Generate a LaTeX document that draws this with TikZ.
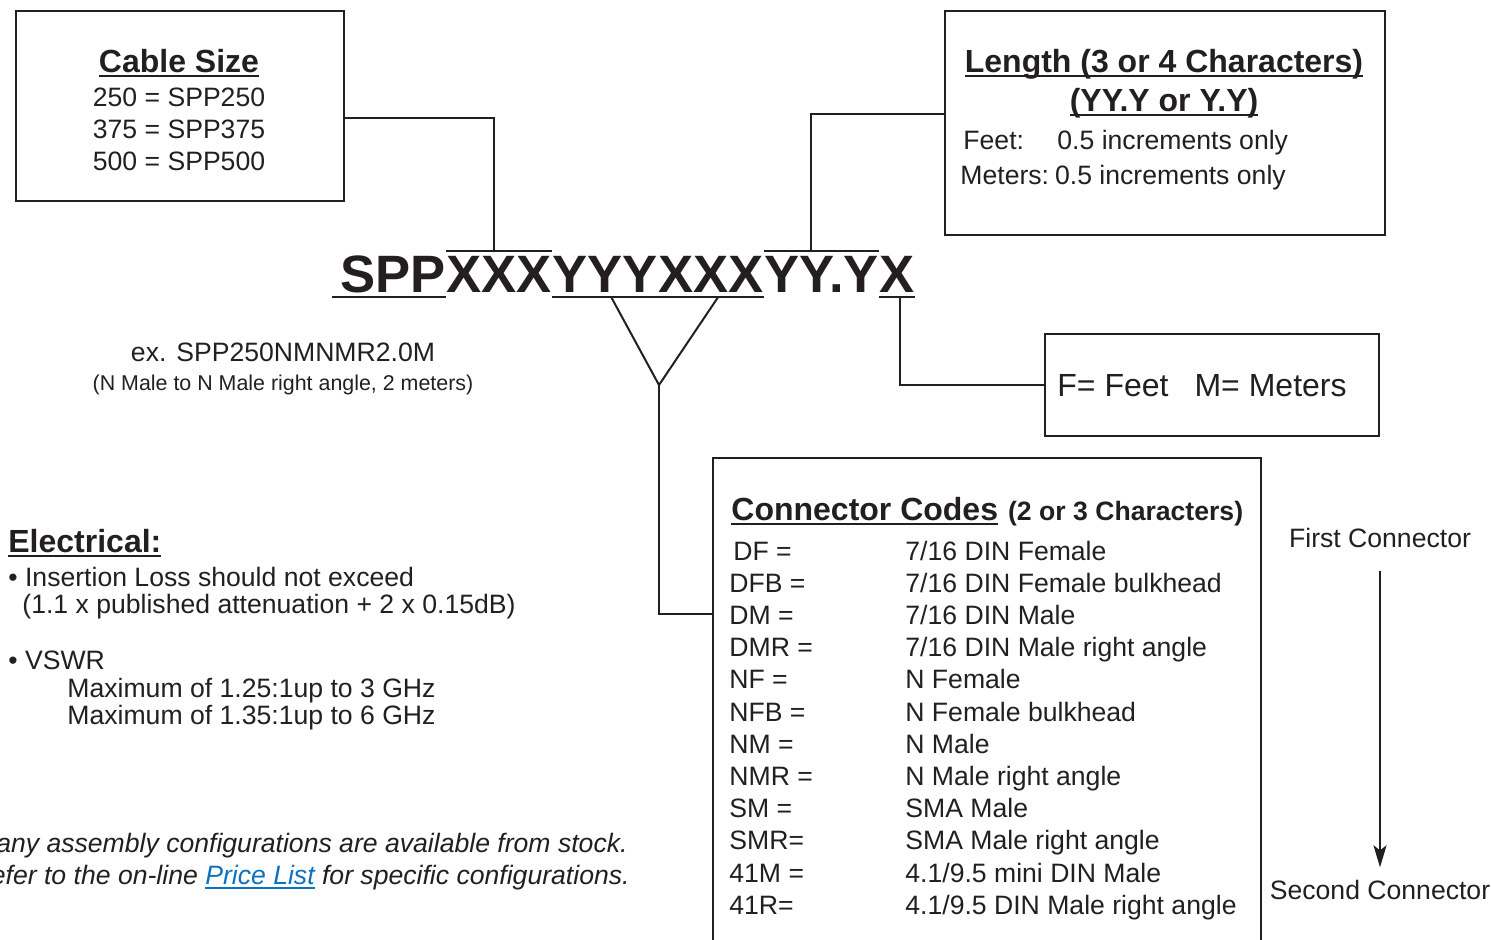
\documentclass[tikz,border=0pt]{standalone}
\usepackage{fontspec}
\setmainfont{Liberation Sans}
\usetikzlibrary{arrows.meta, positioning, calc}
\definecolor{ink}{HTML}{231F20}
\definecolor{linkblue}{HTML}{0B72C0}
\newcommand{\bodyfont}{\fontsize{13.3}{16}\selectfont}
\newcommand{\headfont}{\fontsize{16}{19}\selectfont\bfseries}
\newcommand{\pnfont}{\fontsize{26.3}{30}\selectfont\bfseries}
\newcommand{\hul}[2][0.9pt]{\setbox0\hbox{#2}\rlap{\rule[-2.3pt]{\wd0}{#1}}\box0}

\begin{document}
\begin{tikzpicture}[
    x=0.5pt, y=-0.5pt,
    box/.style={draw=ink, line width=1.1pt, inner sep=0pt, anchor=north west},
    txt/.style={inner sep=0pt, anchor=base west, text=ink, font=\bodyfont},
    head/.style={inner sep=0pt, anchor=base west, text=ink, font=\headfont},
    pn/.style={inner sep=0pt, anchor=base west, text=ink, font=\pnfont},
    bar/.style={color=ink, line width=1pt},
    link/.style={color=ink, line width=1pt},
    flow/.style={-{Stealth[length=11pt, width=6.5pt, inset=2.5pt]}, color=ink, line width=1pt}
  ]
    \clip (0,0) rectangle (1491,939);

    % Boxes
    \node[box, minimum width=164pt, minimum height=95pt] (sizebox) at (15,10) {};
    \node[box, minimum width=220pt, minimum height=112pt] (lenbox) at (944,10) {};
    \node[box, minimum width=167pt, minimum height=51pt] (unitbox) at (1044,333) {};
    \node[box, minimum width=274pt, minimum height=260pt] (conbox) at (712,457) {};

    % Cable size
    \node[head, anchor=base] (sizehead) at (179,72) {\hul{Cable Size}};
    \foreach \v [count=\i from 0] in {250,375,500}
      \node[txt, anchor=base] (size\v) at (179,{106+32*\i}) {\v{} = SPP\v};

    % Length
    \node[head, anchor=base] (lenhead) at (1164,72) {\hul{Length (3 or 4 Characters)}};
    \node[head, anchor=base] (lenform) at (1164,111) {\hul{(YY.Y or Y.Y)}};
    \node[txt] (lenfeet) at (963,149) {Feet:};
    \node[txt] (lenfeetval) at (1057,149) {0.5 increments only};
    \node[txt] (lenmeters) at (960,184) {Meters:\hspace{3pt}0.5 increments only};

    % Part number
    \node[pn] (pnspp) at (340,292) {SPP};
    \node[pn] (pnsize) at (pnspp.base east) {XXX};
    \node[pn] (pnconA) at (pnsize.base east) {YYY};
    \node[pn] (pnconB) at (pnconA.base east) {XXX};
    \node[pn] (pnlen) at (pnconB.base east) {YY.Y};
    \node[pn] (pnunit) at (pnlen.base east) {X};

    % Under and over bars
    \draw[bar] ([xshift=-4pt, yshift=-2.5pt]pnspp.base west) -- ([yshift=-2.5pt]pnspp.base east);
    \foreach \seg in {pnconA, pnconB, pnunit}
      \draw[bar] ([yshift=-2.5pt]\seg.base west) -- ([yshift=-2.5pt]\seg.base east);
    \foreach \seg in {pnsize, pnlen}
      \draw[bar] ([yshift=20.5pt]\seg.base west) -- ([yshift=20.5pt]\seg.base east);

    \coordinate (sizetap) at ([xshift=-2.5pt, yshift=20.5pt]pnsize.base);
    \coordinate (lentap) at ([xshift=-5.5pt, yshift=20.5pt]pnlen.base);
    \coordinate (unittap) at ([xshift=1.5pt, yshift=-2.5pt]pnunit.base);
    \coordinate (conAtap) at ([xshift=3pt, yshift=-2.5pt]pnconA.base);
    \coordinate (conBtap) at ([xshift=3.5pt, yshift=-2.5pt]pnconB.base);
    \coordinate (vtip) at (659,385);

    % Connectors
    \draw[link] ([yshift=-6pt]sizebox.east) -| (sizetap);
    \draw[link] ([yshift=4.5pt]lenbox.west) -| (lentap);
    \draw[link] (unittap) |- (unitbox.west);
    \draw[link] (conAtap) -- (vtip) -- (conBtap);
    \draw[link] (vtip) |- ([yshift=-78.5pt]conbox.north west);

    % Example
    \node[txt, anchor=base] (example) at (283,361) {ex. SPP250NMNMR2.0M};
    \node[txt, anchor=base, font={\fontsize{10.7}{13}\selectfont}] (exnote) at (283,390) {(N Male to N Male right angle, 2 meters)};

    % Units
    \node[txt, font={\fontsize{16}{19}\selectfont}] (unittext) at (1057,396) {F= Feet\hspace{13pt}M= Meters};

    % Connector codes
    \node[head] (conhead) at (731,520) {\hul{Connector Codes}\hspace{5pt}{\fontsize{13.3}{16}\selectfont(2 or 3 Characters)}};
    \foreach \code/\desc [count=\i from 0] in {
        {\hspace{2pt}DF =}/{7/16 DIN Female},
        DFB =/{7/16 DIN Female bulkhead},
        DM =/{7/16 DIN Male},
        DMR =/{7/16 DIN Male right angle},
        NF =/N Female,
        NFB =/N Female bulkhead,
        NM =/N Male,
        NMR =/N Male right angle,
        SM =/SMA Male,
        SMR=/SMA Male right angle,
        41M =/{4.1/9.5 mini DIN Male},
        41R=/{4.1/9.5 DIN Male right angle}} {
      \node[txt] (code\i) at (729,{560+32.2*\i}) {\code};
      \node[txt] (desc\i) at (905,{560+32.2*\i}) {\desc};
    }

    % Connector order
    \node[txt, anchor=base] (first) at (1380,547) {First Connector};
    \node[txt, anchor=base] (second) at (1380,899) {Second Connector};
    \draw[flow, shorten <=11.5pt, shorten >=6pt] (first) -- (second);

    % Electrical
    \node[head] (elechead) at (8,552) {\hul{Electrical:}};
    \node[txt] (loss) at (8,586) {\textbullet{} Insertion Loss should not exceed};
    \node[txt] (lossval) at (22,613) {(1.1 x published attenuation + 2 x 0.15dB)};
    \node[txt] (vswr) at (8,669) {\textbullet{} VSWR};
    \node[txt] (vswrA) at (67,697) {Maximum of 1.25:1up to 3 GHz};
    \node[txt] (vswrB) at (67,724) {Maximum of 1.35:1up to 6 GHz};

    % Stock note
    \node[txt, anchor=base east, font={\bodyfont\itshape}] (stock) at (628,852) {Many assembly configurations are available from stock.};
    \node[txt, anchor=base east, font={\bodyfont\itshape}] (refer) at (630,884) {Refer to the on-line \textcolor{linkblue}{\hul[0.6pt]{Price List}} for specific configurations.};
  \end{tikzpicture}
\end{document}
